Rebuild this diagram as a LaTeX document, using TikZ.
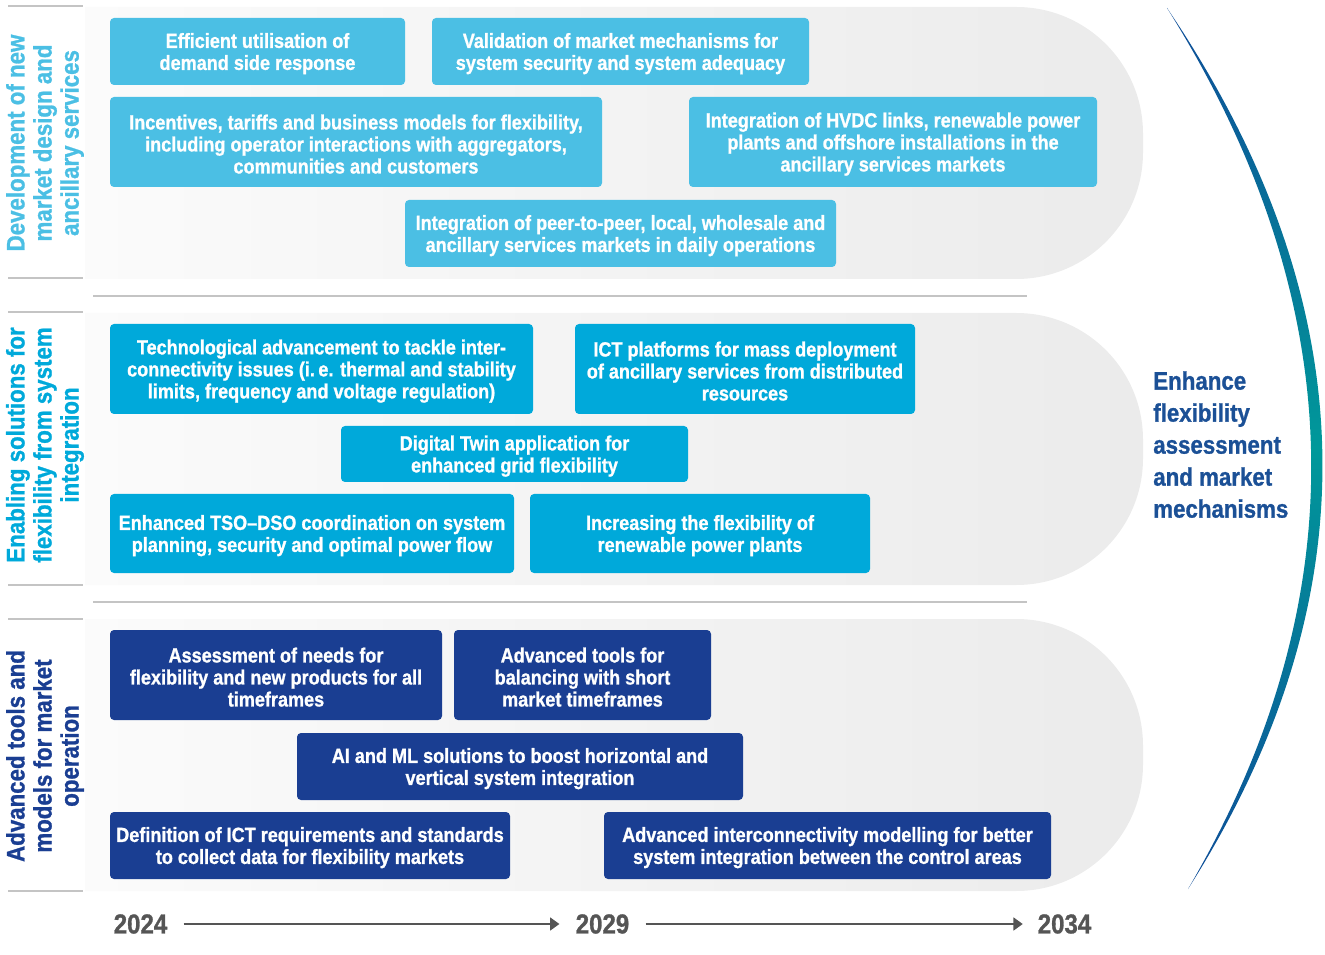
\documentclass[tikz,border=0pt]{standalone}
\usepackage{fontspec}
\setmainfont{Liberation Sans Bold}[FakeStretch=0.88, FakeBold=1]
\usetikzlibrary{arrows.meta}
\definecolor{lblue}{HTML}{4BBFE4}
\definecolor{mblue}{HTML}{00A9DA}
\definecolor{dblue}{HTML}{1A3E92}
\definecolor{linegrey}{HTML}{C4C4C4}
\definecolor{yeargrey}{HTML}{555555}
\definecolor{panelL}{HTML}{FBFBFB}
\definecolor{panelR}{HTML}{EBEBEB}
\definecolor{arcblue}{HTML}{0E4C98}
\definecolor{arcteal}{HTML}{00999A}
\definecolor{goaltext}{HTML}{1B5096}
\tikzset{
  boxbase/.style={rounded corners=3pt, inner sep=0pt},
  boxtext/.style={inner sep=0pt, align=center, text=white,
    font=\fontsize{15.4}{16.5}\selectfont},
  lbox/.style={boxbase, fill=lblue},
  mbox/.style={boxbase, fill=mblue},
  dbox/.style={boxbase, fill=dblue},
  panel/.style={left color=panelL, right color=panelR, draw=none},
  sepline/.style={draw=linegrey, line width=1.1pt},
  sidelabel/.style={rotate=90, align=center, inner sep=0pt,
    font=\fontsize{19}{20.3}\selectfont},
  yearlabel/.style={text=yeargrey, inner sep=0pt, font=\fontsize{20.5}{24}\selectfont},
  timeline/.style={draw=yeargrey, line width=2.2pt, -{Triangle[length=7pt,width=9.5pt]}},
}
\newcommand\bx[7]{%
  \node[#6, minimum width={(#4-#2)*0.75pt}, minimum height={(#5-#3)*0.75pt}] (#1) at ({(#2+#4)/2},{(#3+#5)/2}) {};
  \node[boxtext] (#1-t) at ([yshift=-1.6pt]#1.center) {#7};}
\begin{document}
\begin{tikzpicture}[x=0.75pt,y=-0.75pt]
\useasboundingbox (0,0) rectangle (1325,955);
% panels
\foreach \t/\b in {7/279, 313/585, 619/891}{
  \path[panel] (85,\t) [rounded corners=95pt] -- (1143,\t) -- (1143,\b) [sharp corners] -- (85,\b) -- cycle;
}
% separator lines
\foreach \y in {6,278,312,585,619,891}{\draw[sepline] (8,\y) -- (83,\y);}
\foreach \y in {296,602}{\draw[sepline] (93,\y) -- (1027,\y);}
% side labels
\node[sidelabel, text=lblue] (lab1) at (45,143) {Development of new\\market design and\\ancillary services};
\node[sidelabel, text=mblue] (lab2) at (45,445) {Enabling solutions for\\flexibility from system\\integration};
\node[sidelabel, text=dblue] (lab3) at (45,756) {Advanced tools and\\models for market\\operation};
% top group
\bx{a1}{110}{18}{405}{85}{lbox}{Efficient utilisation of\\demand side response}
\bx{a2}{432}{18}{809}{85}{lbox}{Validation of market mechanisms for\\system security and system adequacy}
\bx{a3}{110}{97}{602}{187}{lbox}{Incentives, tariffs and business models for flexibility,\\including operator interactions with aggregators,\\communities and customers}
\bx{a4}{689}{97}{1097}{187}{lbox}{Integration of HVDC links, renewable power\\plants and offshore installations in the\\ancillary services markets}
\bx{a5}{405}{200}{836}{267}{lbox}{Integration of peer-to-peer, local, wholesale and\\ancillary services markets in daily operations}
% middle group
\bx{b1}{110}{324}{533}{414}{mbox}{Technological advancement to tackle inter-\\connectivity issues (i.\,e. thermal and stability\\limits, frequency and voltage regulation)}
\bx{b2}{575}{324}{915}{414}{mbox}{ICT platforms for mass deployment\\of ancillary services from distributed\\resources}
\bx{b3}{341}{426}{688}{482}{mbox}{Digital Twin application for\\enhanced grid flexibility}
\bx{b4}{110}{494}{514}{573}{mbox}{Enhanced TSO–DSO coordination on system\\planning, security and optimal power flow}
\bx{b5}{530}{494}{870}{573}{mbox}{Increasing the flexibility of\\renewable power plants}
% bottom group
\bx{c1}{110}{630}{442}{720}{dbox}{Assessment of needs for\\flexibility and new products for all\\timeframes}
\bx{c2}{454}{630}{711}{720}{dbox}{Advanced tools for\\balancing with short\\market timeframes}
\bx{c3}{297}{733}{743}{800}{dbox}{AI and ML solutions to boost horizontal and\\vertical system integration}
\bx{c4}{110}{812}{510}{879}{dbox}{Definition of ICT requirements and standards\\to collect data for flexibility markets}
\bx{c5}{604}{812}{1051}{879}{dbox}{Advanced interconnectivity modelling for better\\system integration between the control areas}
% right arc
\shade[top color=arcblue, bottom color=arcblue, middle color=arcteal]
  (1167,8) .. controls (1367,303) and (1374,597) .. (1188,889)
  .. controls (1359,597) and (1352,303) .. (1167,8) -- cycle;
\node[anchor=north west, align=left, inner sep=0pt, text=goaltext,
  font=\fontsize{19}{24}\selectfont] (goal) at (1153,371)
  {Enhance\\flexibility\\assessment\\and market\\mechanisms};
% timeline
\node[yearlabel] (y1) at (140.5,924) {2024};
\node[yearlabel] (y2) at (602.5,924) {2029};
\node[yearlabel] (y3) at (1064.5,924) {2034};
\draw[timeline] ([xshift=12pt]y1.east) -- ([xshift=-12pt]y2.west);
\draw[timeline] ([xshift=12pt]y2.east) -- ([xshift=-11pt]y3.west);
\end{tikzpicture}
\end{document}
